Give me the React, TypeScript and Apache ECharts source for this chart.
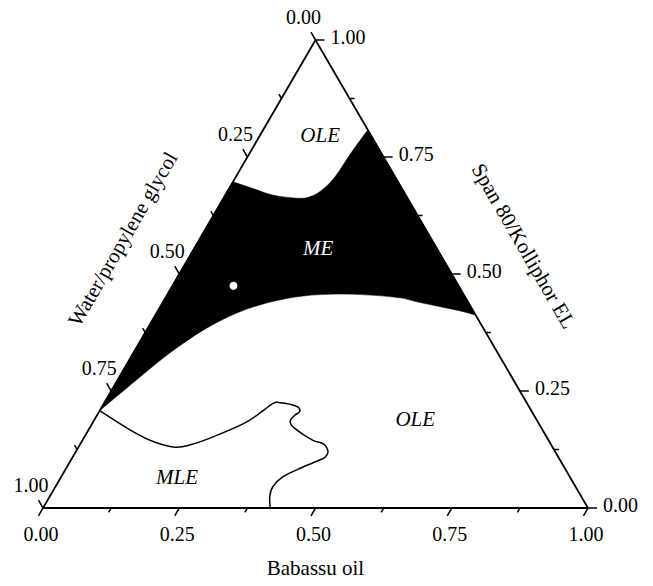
import React, { useEffect, useRef } from "react";
import * as echarts from "echarts";

// Ternary axis ticks (every 0.125) and labels on the major ticks
const tickValues = [0, 0.125, 0.25, 0.375, 0.5, 0.625, 0.75, 0.875, 1];
const majorTickLabels = ["0.00", "0.25", "0.50", "0.75", "1.00"];
const axisTitles = ["Babassu oil", "Water/propylene glycol", "Span 80/Kolliphor EL"];

// Points are [Babassu oil, Span 80/Kolliphor EL]; Water/propylene glycol = 1 - both
const meUpperBoundary = [
  [0.0, 0.697], [0.04, 0.684], [0.086, 0.669], [0.135, 0.662], [0.157, 0.665],
  [0.172, 0.679], [0.182, 0.707], [0.186, 0.759], [0.192, 0.808],
];
const meLowerBoundary = [
  [0.588, 0.412], [0.555, 0.421], [0.468, 0.44], [0.431, 0.449], [0.372, 0.455],
  [0.311, 0.457], [0.251, 0.453], [0.197, 0.44], [0.148, 0.417], [0.104, 0.38],
  [0.067, 0.331], [0.035, 0.274], [0.0, 0.208],
];
const mleBoundary = [
  [0.0, 0.208], [0.076, 0.167], [0.131, 0.142], [0.177, 0.13], [0.203, 0.135],
  [0.236, 0.152], [0.282, 0.184], [0.31, 0.223], [0.322, 0.225], [0.355, 0.218],
  [0.368, 0.207], [0.363, 0.198], [0.361, 0.185], [0.377, 0.17], [0.422, 0.145],
  [0.446, 0.137], [0.463, 0.12], [0.463, 0.108], [0.457, 0.103], [0.432, 0.0865],
  [0.407, 0.067], [0.399, 0.0455], [0.404, 0.024], [0.417, 0.0],
];
const regionNames = ["OLE", "ME", "OLE", "MLE"];
const regionPositions = [
  [0.11, 0.797], [0.227, 0.556], [0.588, 0.19], [0.213, 0.066],
];
const samplePoint = [[0.112, 0.475]];

const FONT = "'Liberation Serif', 'DejaVu Serif', serif";

const toXY = (p: number[]) => [p[0] + p[1] / 2, p[1]];

function crPath(pts: number[][], move: boolean) {
  const f = (p: number[]) => `${p[0].toFixed(2)},${p[1].toFixed(2)}`;
  let d = (move ? "M" : "L") + f(pts[0]);
  for (let i = 0; i < pts.length - 1; i++) {
    const p0 = pts[i - 1] || pts[i];
    const p1 = pts[i];
    const p2 = pts[i + 1];
    const p3 = pts[i + 2] || p2;
    const c1 = [p1[0] + (p2[0] - p0[0]) / 6, p1[1] + (p2[1] - p0[1]) / 6];
    const c2 = [p2[0] - (p3[0] - p1[0]) / 6, p2[1] - (p3[1] - p1[1]) / 6];
    d += " C" + f(c1) + " " + f(c2) + " " + f(p2);
  }
  return d;
}

const norm = (a: number[], b: number[]) => {
  const dx = b[0] - a[0];
  const dy = b[1] - a[1];
  const l = Math.hypot(dx, dy);
  return [dx / l, dy / l];
};

export default function App() {
  const ref = useRef<HTMLDivElement>(null);

  useEffect(() => {
    if (!ref.current) return;
    const chart = echarts.init(ref.current, null, { renderer: "svg" });

    const option: any = {
      animation: false,
      backgroundColor: "#fff",
      grid: { left: 43, right: 65, top: 40, bottom: 78 },
      xAxis: { type: "value", min: 0, max: 1, show: false },
      yAxis: { type: "value", min: 0, max: 1, show: false },
      series: [
        {
          type: "custom",
          name: "ME",
          silent: true,
          clip: false,
          z: 1,
          data: [[0, 0]],
          renderItem: (_p: any, api: any) => {
            const up = meUpperBoundary.map((p) => api.coord(toXY(p)));
            const lo = meLowerBoundary.map((p) => api.coord(toXY(p)));
            const d = crPath(up, true) + " " + crPath(lo, false) + " Z";
            return { type: "path", shape: { pathData: d }, style: { fill: "#000", stroke: "#000", lineWidth: 0.5 } };
          },
        },
        {
          type: "custom",
          name: "MLE",
          silent: true,
          clip: false,
          z: 2,
          data: [[0, 0]],
          renderItem: (_p: any, api: any) => {
            const pts = mleBoundary.map((p) => api.coord(toXY(p)));
            return { type: "path", shape: { pathData: crPath(pts, true) }, style: { fill: "none", stroke: "#000", lineWidth: 1.5 } };
          },
        },
        {
          type: "custom",
          name: "frame",
          silent: true,
          clip: false,
          z: 3,
          data: [[0, 0]],
          renderItem: (_p: any, api: any) => {
            const c = (b: number, s: number) => api.coord(toXY([b, s]));
            const BL = c(0, 0);
            const BR = c(1, 0);
            const T = c(0, 1);
            const dirBottom = norm(T, BL);
            const dirRight = [1, 0];
            const dirLeft = norm(BR, T);
            const children: any[] = [
              {
                type: "polygon",
                shape: { points: [BL, BR, T] },
                style: { fill: "none", stroke: "#000", lineWidth: 1.8, lineJoin: "miter" },
              },
            ];
            const textStyle = (text: string, align: string) => ({
              text,
              fill: "#000",
              fontSize: 20,
              fontFamily: FONT,
              align,
              verticalAlign: "middle",
            });
            tickValues.forEach((v, i) => {
              const len = i % 2 === 0 ? 9 : 5;
              const pb = c(v, 0);
              const pr = c(1 - v, v);
              const pl = c(0, 1 - v);
              [
                [pb, dirBottom],
                [pr, dirRight],
                [pl, dirLeft],
              ].forEach(([p, dir]) => {
                children.push({
                  type: "line",
                  shape: { x1: p[0], y1: p[1], x2: p[0] + dir[0] * len, y2: p[1] + dir[1] * len },
                  style: { stroke: "#000", lineWidth: 1.5 },
                });
              });
              if (i % 2 === 0) {
                const lab = majorTickLabels[i / 2];
                children.push({ type: "text", x: pb[0] - 2, y: pb[1] + 26, style: textStyle(lab, "center") });
                children.push({ type: "text", x: pr[0] + 15, y: pr[1] - 3, style: textStyle(lab, "left") });
                children.push({ type: "text", x: pl[0] - 12, y: pl[1] - 23.5, style: textStyle(lab, "center") });
              }
            });
            const titleStyle = (text: string) => ({
              text,
              fill: "#000",
              fontSize: 21,
              fontFamily: FONT,
              align: "center",
              verticalAlign: "middle",
            });
            const mb = c(0.5, 0);
            children.push({ type: "text", x: mb[0], y: mb[1] + 60, style: titleStyle(axisTitles[0]) });
            const ml = c(0, 0.5);
            children.push({ type: "text", x: ml[0] - 56.5, y: ml[1] - 35, rotation: Math.PI / 3, style: titleStyle(axisTitles[1]) });
            const mr = c(0.5, 0.5);
            children.push({ type: "text", x: mr[0] + 72, y: mr[1] - 28, rotation: -Math.PI / 3, style: titleStyle(axisTitles[2]) });
            return { type: "group", children };
          },
        },
        {
          type: "custom",
          name: "regions",
          silent: true,
          clip: false,
          z: 4,
          data: regionPositions.map(toXY),
          renderItem: (params: any, api: any) => {
            const p = api.coord([api.value(0), api.value(1)]);
            const name = regionNames[params.dataIndex];
            return {
              type: "text",
              x: p[0],
              y: p[1],
              style: {
                text: name,
                fill: name === "ME" ? "#fff" : "#000",
                fontSize: 21,
                fontStyle: "italic",
                fontFamily: FONT,
                align: "center",
                verticalAlign: "middle",
              },
            };
          },
        },
        {
          type: "scatter",
          name: "sample",
          silent: true,
          z: 5,
          symbol: "circle",
          symbolSize: 8,
          itemStyle: { color: "#ffffff", opacity: 1, borderWidth: 0 },
          data: samplePoint.map(toXY),
        },
      ],
    };
    chart.setOption(option);
    return () => chart.dispose();
  }, []);

  return (
    <div
      ref={ref}
      style={{ position: "absolute", left: 0, top: 0, width: 653, height: 586, background: "#fff" }}
    />
  );
}
